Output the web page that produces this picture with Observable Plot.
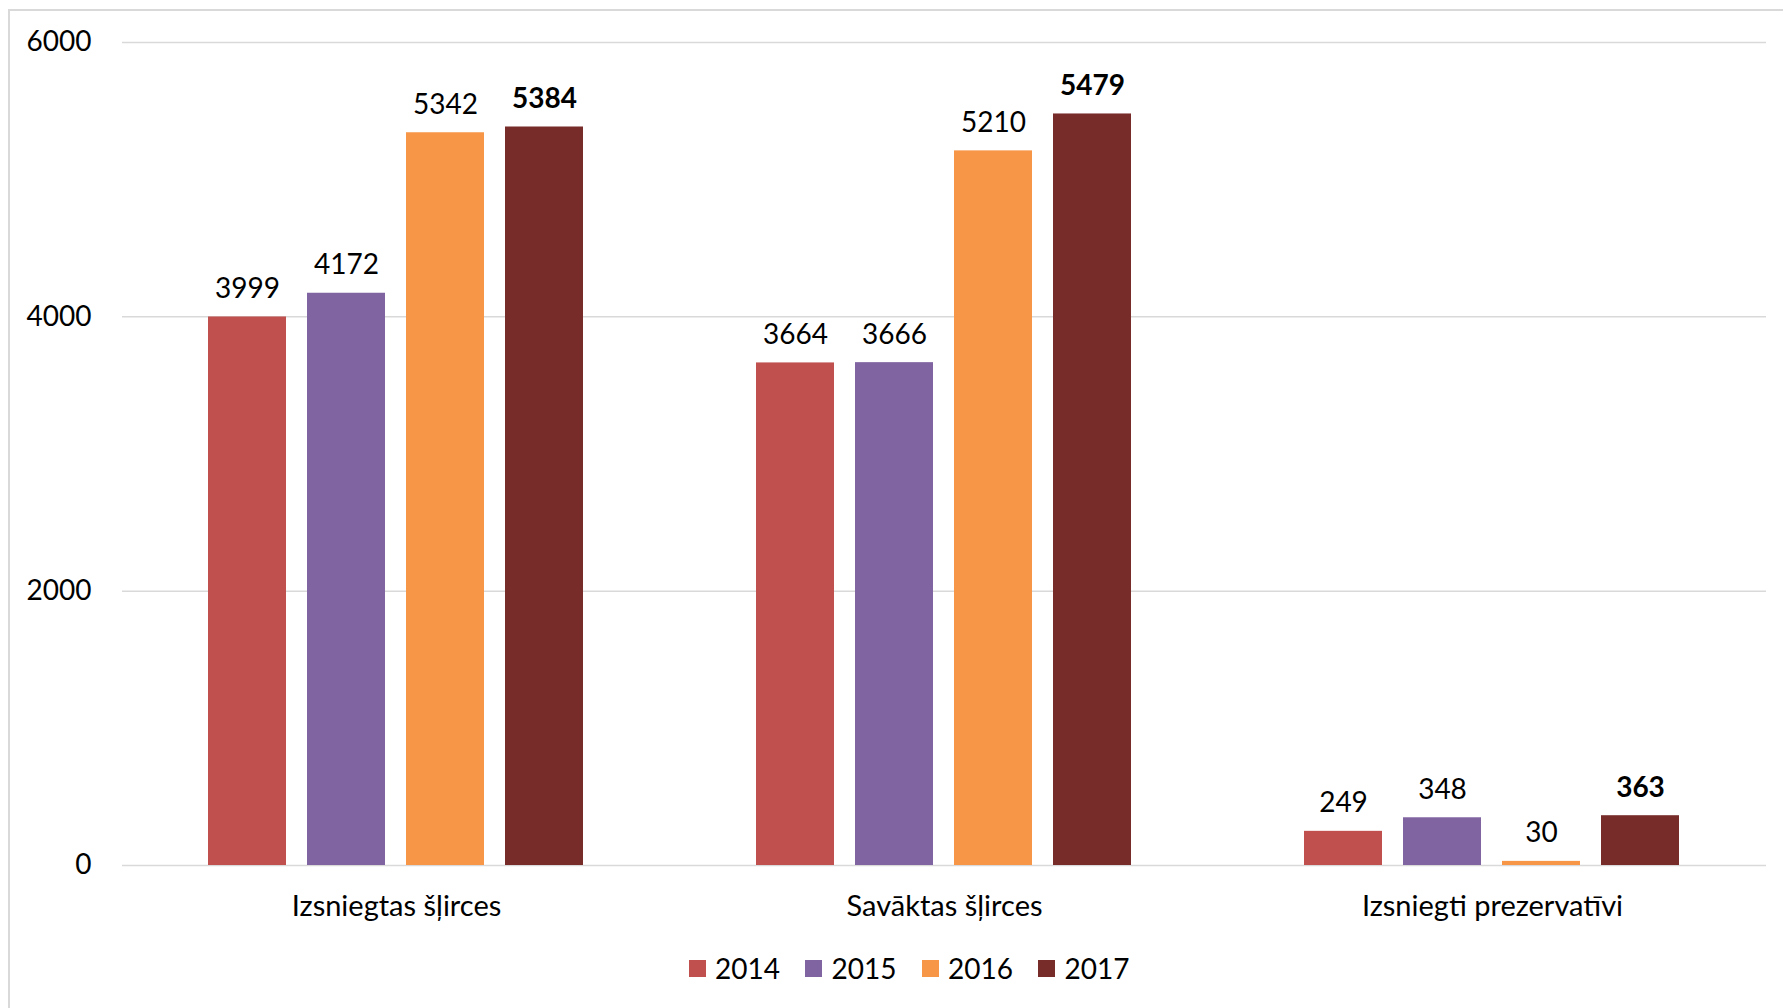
<!DOCTYPE html>
<html>
<head>
<meta charset="utf-8">
<script src="https://cdn.jsdelivr.net/npm/d3@7"></script>
<script src="https://cdn.jsdelivr.net/npm/@observablehq/plot@0.6"></script>
<style>
  html, body { margin: 0; padding: 0; background: #fff; }
  body { width: 1783px; height: 1008px; position: relative; overflow: hidden; font-family: Lato, "Open Sans", sans-serif; }
  #frame { position: absolute; left: 8px; top: 9px; width: 1800px; height: 1100px; border: 2.5px solid #d9d9d9; box-sizing: border-box; pointer-events: none; }
  #chart { position: absolute; left: 0; top: 0; }
  #legend { position: absolute; left: 689px; top: 951px; }
  .lg-swatch { margin-right: 25.5px !important; }
  .lg-swatch > svg { margin-right: 9px !important; }
</style>
</head>
<body>
<div id="chart"></div>
<div id="legend"></div>
<div id="frame"></div>
<script>
const categories = ["Izsniegtas šļirces", "Savāktas šļirces", "Izsniegti prezervatīvi"];
const years = ["2014", "2015", "2016", "2017"];
const values2014 = [3999, 3664, 249];
const values2015 = [4172, 3666, 348];
const values2016 = [5342, 5210, 30];
const values2017 = [5384, 5479, 363];
const colors = ["#C0504D", "#8064A2", "#F79646", "#772C2A"];
const yTicks = [0, 2000, 4000, 6000];

const series = [values2014, values2015, values2016, values2017];
const data = [];
categories.forEach((c, i) => {
  years.forEach((yr, j) => data.push({cat: c, year: yr, value: series[j][i]}));
});

const chart = Plot.plot({
  width: 1783,
  height: 940,
  marginLeft: 122,
  marginRight: 17,
  marginTop: 42,
  marginBottom: 75,
  style: {fontSize: "28px", fontFamily: "Lato, 'Open Sans', sans-serif", color: "#000", background: "transparent"},
  fx: {domain: categories, padding: 0, axis: null, label: null},
  x: {domain: years, paddingInner: 0.21, paddingOuter: 0.85, axis: null},
  y: {domain: [0, 6000], axis: null},
  color: {domain: years, range: colors},
  marks: [
    Plot.gridY(yTicks, {stroke: "#d9d9d9", strokeOpacity: 1, strokeWidth: 1.5}),
    Plot.axisY(yTicks, {tickSize: 0, tickPadding: 31, tickFormat: d => String(d), fontSize: 28, label: null}),
    Plot.barY(data, {fx: "cat", x: "year", y: "value", fill: "year"}),
    Plot.text(data.filter(d => d.year !== "2017"), {fx: "cat", x: "year", y: "value", text: d => String(d.value), dy: -28, fontSize: 28, fill: "#000"}),
    Plot.text(data.filter(d => d.year === "2017"), {fx: "cat", x: "year", y: "value", text: d => String(d.value), dy: -28, fontSize: 28, fontWeight: "bold", fill: "#000"}),
    Plot.axisFx({anchor: "bottom", tickSize: 0, tickPadding: 30, fontSize: 29, label: null})
  ]
});
document.getElementById("chart").appendChild(chart);

const legend = Plot.legend({
  color: {domain: years, range: colors},
  swatchSize: 17,
  className: "lg",
  style: {fontSize: "28px", fontFamily: "Lato, 'Open Sans', sans-serif", color: "#000"}
});
document.getElementById("legend").appendChild(legend);
</script>
</body>
</html>
